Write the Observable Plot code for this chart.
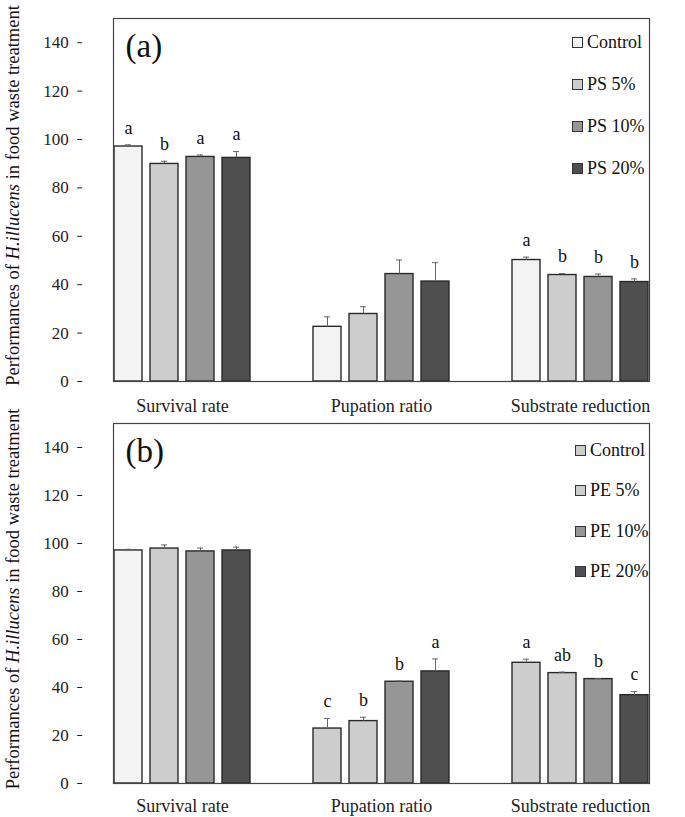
<!DOCTYPE html>
<html><head><meta charset="utf-8">
<script src="https://cdn.jsdelivr.net/npm/d3@7"></script>
<script src="https://cdn.jsdelivr.net/npm/@observablehq/plot@0.6"></script>
<style>
body{margin:0;background:#fff;font-family:"Liberation Serif","Times New Roman",serif;}
#wrap{position:relative;width:685px;}
.panel{position:relative;width:685px;}
.panel svg{display:block;overflow:visible;}
.legend{position:absolute;font-size:18px;color:#111;}
.legend .row{display:flex;align-items:center;}
.legend .sw{width:9px;height:9px;border:1px solid #333;margin-right:4px;}
</style></head><body><div id="wrap"></div>
<script>
// ---- data ----
const categories = ["Survival rate", "Pupation ratio", "Substrate reduction"];
const seriesA = ["Control", "PS 5%", "PS 10%", "PS 20%"];
const seriesB = ["Control", "PE 5%", "PE 10%", "PE 20%"];
const meansA = [[97.1, 89.9, 92.8, 92.4], [22.6, 27.9, 44.4, 41.3], [50.2, 44.0, 43.2, 41.1]];
const errA   = [[0.7, 1.1, 0.8, 2.6], [4.1, 3.0, 5.8, 7.8], [1.2, 0.6, 1.2, 1.3]];
const lettersA = [["a", "b", "a", "a"], ["", "", "", ""], ["a", "b", "b", "b"]];
const meansB = [[97.1, 97.9, 96.7, 97.1], [22.9, 26.0, 42.4, 46.7], [50.3, 46.0, 43.5, 36.8]];
const errB   = [[0.5, 1.5, 1.4, 1.4], [4.2, 1.6, 0.3, 5.2], [1.5, 0.4, 0.2, 1.5]];
const lettersB = [["", "", "", ""], ["c", "b", "b", "a"], ["a", "ab", "b", "c"]];
const yTicks = [0, 20, 40, 60, 80, 100, 120, 140];
// shade index per bar (palette below)
const shadeA = [[0, 1, 2, 3], [0, 1, 2, 3], [0, 1, 2, 3]];
const shadeB = [[0, 1, 2, 3], [1, 1, 2, 3], [1, 1, 2, 3]];
const legendShadeA = [0, 1, 2, 3];
const legendShadeB = [1, 1, 2, 3];

const palette = ["#f3f3f3", "#cdcdcd", "#969696", "#4f4f4f"];
const FONT = "Liberation Serif, Times New Roman, serif";
const W = 685, ML = 82, MR = 5;
const fxOpts = {domain: categories, paddingInner: 0.309, paddingOuter: 0.1545, label: null};

function drawPanel({series, means, errs, letters, shades, legendShades, tag, height, marginTop, marginBottom, tickPadX, legendLeft, legendTop, rowH}) {
  const rows = [];
  categories.forEach((c, i) => series.forEach((s, j) => rows.push({
    cat: c, series: s, value: means[i][j], err: errs[i][j], letter: letters[i][j], fill: palette[shades[i][j]]
  })));
  const withErr = rows.filter(d => d.err > 0);
  // offset of first facet from the frame's left edge, so the y axis sits on the frame
  const fxScale = Plot.scale({fx: {type: "band", ...fxOpts, range: [ML, W - MR]}});
  const axisOffset = fxScale.apply(categories[0]) - ML;
  const plot = Plot.plot({
    width: W, height, marginLeft: ML, marginRight: MR, marginTop, marginBottom,
    style: {fontFamily: FONT, fontSize: "18px", color: "#222", background: "transparent"},
    fx: fxOpts,
    x: {domain: series, paddingInner: 0.21, paddingOuter: 0, axis: null},
    y: {domain: [0, 150], label: null},
    color: {type: "identity"},
    marks: [
      Plot.barY(rows, {fx: "cat", x: "series", y: "value", fill: "fill", stroke: "#2a2a2a", strokeWidth: 1.4}),
      Plot.ruleX(withErr, {fx: "cat", x: "series", y1: "value", y2: d => d.value + d.err, stroke: "#666", strokeWidth: 1}),
      Plot.tickY(withErr, {fx: "cat", x: "series", y: d => d.value + d.err, stroke: "#666", strokeWidth: 1, insetLeft: 11, insetRight: 11}),
      Plot.text(rows.filter(d => d.letter), {fx: "cat", x: "series", y: d => d.value + d.err, text: "letter", dy: -17, fontSize: 18, fill: "#111"}),
      Plot.frame({facet: "super", stroke: "#444", strokeWidth: 1.2}),
      Plot.text([tag], {facet: "super", frameAnchor: "top-left", text: d => d, dx: 12, dy: 28, textAnchor: "start", lineAnchor: "middle", fontSize: 33, fill: "#111"}),
      Plot.axisY({ticks: yTicks, tickSize: 5, tickPadding: 9, label: null, fontSize: 17, dx: -axisOffset}),
      Plot.axisFx({anchor: "bottom", tickSize: 0, tickPadding: tickPadX, label: null, fontSize: 18})
    ]
  });
  const div = document.createElement("div");
  div.className = "panel";
  div.appendChild(plot);
  // y-axis title with italic species name
  const ys = plot.scale("y");
  const cy = (ys.range[0] + ys.range[1]) / 2 - 4;
  const t = d3.select(plot).append("text")
    .attr("transform", `translate(19,${cy}) rotate(-90)`)
    .attr("text-anchor", "middle")
    .attr("font-family", FONT).attr("font-size", 18.5).attr("fill", "#111");
  t.append("tspan").text("Performances of ");
  t.append("tspan").attr("font-style", "italic").text("H.illucens");
  t.append("tspan").text(" in food waste treatment");
  // legend
  const lg = document.createElement("div");
  lg.className = "legend";
  lg.style.left = legendLeft + "px";
  lg.style.top = legendTop + "px";
  series.forEach((s, j) => {
    const r = document.createElement("div");
    r.className = "row";
    r.style.height = rowH + "px";
    const sw = document.createElement("span");
    sw.className = "sw";
    sw.style.background = palette[legendShades[j]];
    const tx = document.createElement("span");
    tx.textContent = s;
    r.appendChild(sw); r.appendChild(tx);
    lg.appendChild(r);
  });
  div.appendChild(lg);
  document.getElementById("wrap").appendChild(div);
}

drawPanel({series: seriesA, means: meansA, errs: errA, letters: lettersA, shades: shadeA, legendShades: legendShadeA,
  tag: "(a)", height: 418, marginTop: 18, marginBottom: 37, tickPadX: 18, legendLeft: 572, legendTop: 21, rowH: 42});
drawPanel({series: seriesB, means: meansB, errs: errB, letters: lettersB, shades: shadeB, legendShades: legendShadeB,
  tag: "(b)", height: 399, marginTop: 5, marginBottom: 34, tickPadX: 16, legendLeft: 575, legendTop: 12, rowH: 40.5});
</script>
</body></html>
